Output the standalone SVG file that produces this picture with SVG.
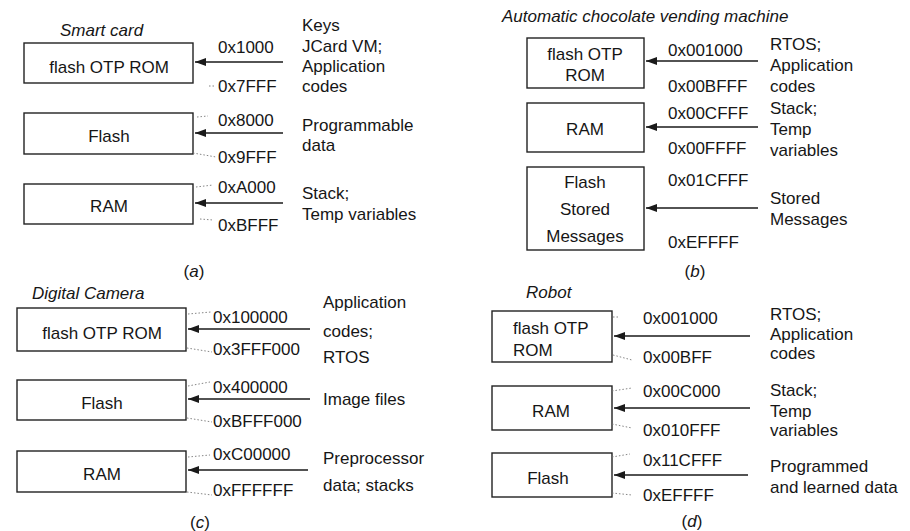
<svg xmlns="http://www.w3.org/2000/svg" width="910" height="531" viewBox="0 0 910 531">
<style>
text{font-family:"Liberation Sans",Arial,sans-serif;font-size:17px;fill:#161616}
.i{font-style:italic}
.c{text-anchor:middle}
.box{fill:#fff;stroke:#222;stroke-width:1.4}
.arr{stroke:#1a1a1a;stroke-width:1.6;fill:none}
.lead{stroke:#777;stroke-width:0.9;stroke-dasharray:1.5 2;fill:none}
</style>
<defs>
<marker id="ah" markerWidth="11" markerHeight="8" refX="11" refY="4" orient="auto" markerUnits="userSpaceOnUse">
<path d="M0,0 L11,4 L0,8 Z" fill="#1a1a1a"/>
</marker>
</defs>
<rect width="910" height="531" fill="#fff"/>

<!-- (a) Smart card -->
<text class="i" x="60" y="36">Smart card</text>
<g id="a-rom"><rect class="box" x="24" y="43" width="169" height="40"/><text class="c" x="109" y="73">flash OTP ROM</text></g>
<g id="a-flash"><rect class="box" x="24" y="113" width="169" height="41"/><text class="c" x="109" y="142">Flash</text></g>
<g id="a-ram"><rect class="box" x="24" y="184" width="169" height="40"/><text class="c" x="109" y="212">RAM</text></g>
<text x="218" y="53">0x1000</text>
<text x="218" y="92">0x7FFF</text>
<text x="218" y="126">0x8000</text>
<text x="218" y="163">0x9FFF</text>
<text x="218" y="193">0xA000</text>
<text x="218" y="231">0xBFFF</text>
<text x="302" y="31">Keys</text>
<text x="302" y="52">JCard VM;</text>
<text x="302" y="72">Application</text>
<text x="302" y="92">codes</text>
<text x="302" y="131">Programmable</text>
<text x="302" y="151">data</text>
<text x="302" y="199">Stack;</text>
<text x="302" y="220">Temp variables</text>
<text class="c" x="194" y="277">(<tspan class="i">a</tspan>)</text>

<!-- (b) Automatic chocolate vending machine -->
<text class="i" x="502" y="22">Automatic chocolate vending machine</text>
<g id="b-rom"><rect class="box" x="527" y="38" width="117" height="50"/><text class="c" x="585" y="60">flash OTP</text><text class="c" x="585" y="81">ROM</text></g>
<g id="b-ram"><rect class="box" x="527" y="103" width="117" height="49"/><text class="c" x="585" y="135">RAM</text></g>
<g id="b-flash"><rect class="box" x="527" y="167" width="117" height="83"/><text class="c" x="585" y="188">Flash</text><text class="c" x="585" y="215">Stored</text><text class="c" x="585" y="242">Messages</text></g>
<text x="668" y="56">0x001000</text>
<text x="668" y="92">0x00BFFF</text>
<text x="668" y="119">0x00CFFF</text>
<text x="668" y="154">0x00FFFF</text>
<text x="668" y="186">0x01CFFF</text>
<text x="668" y="248">0xEFFFF</text>
<text x="770" y="50">RTOS;</text>
<text x="770" y="71">Application</text>
<text x="770" y="92">codes</text>
<text x="770" y="114">Stack;</text>
<text x="770" y="135">Temp</text>
<text x="770" y="156">variables</text>
<text x="770" y="204">Stored</text>
<text x="770" y="225">Messages</text>
<text class="c" x="695" y="277">(<tspan class="i">b</tspan>)</text>

<!-- (c) Digital Camera -->
<text class="i" x="32" y="299">Digital Camera</text>
<g id="c-rom"><rect class="box" x="17" y="308" width="169" height="43"/><text class="c" x="102" y="339">flash OTP ROM</text></g>
<g id="c-flash"><rect class="box" x="17" y="380" width="169" height="40"/><text class="c" x="102" y="409">Flash</text></g>
<g id="c-ram"><rect class="box" x="17" y="451" width="169" height="41"/><text class="c" x="102" y="480">RAM</text></g>
<text x="213" y="323">0x100000</text>
<text x="213" y="355">0x3FFF000</text>
<text x="213" y="393">0x400000</text>
<text x="213" y="427">0xBFFF000</text>
<text x="213" y="460">0xC00000</text>
<text x="213" y="496">0xFFFFFF</text>
<text x="323" y="308">Application</text>
<text x="323" y="337">codes;</text>
<text x="323" y="363">RTOS</text>
<text x="323" y="405">Image files</text>
<text x="323" y="464">Preprocessor</text>
<text x="323" y="491">data; stacks</text>
<text class="c" x="200" y="528">(<tspan class="i">c</tspan>)</text>

<!-- (d) Robot -->
<text class="i" x="526" y="298">Robot</text>
<g id="d-rom"><rect class="box" x="492" y="311" width="120" height="51"/><text x="513" y="334">flash OTP</text><text x="513" y="356">ROM</text></g>
<g id="d-ram"><rect class="box" x="492" y="386" width="120" height="44"/><text class="c" x="551" y="417">RAM</text></g>
<g id="d-flash"><rect class="box" x="492" y="453" width="120" height="44"/><text class="c" x="548" y="484">Flash</text></g>
<text x="643" y="324">0x001000</text>
<text x="643" y="363">0x00BFF</text>
<text x="643" y="397">0x00C000</text>
<text x="643" y="436">0x010FFF</text>
<text x="643" y="466">0x11CFFF</text>
<text x="643" y="501">0xEFFFF</text>
<text x="770" y="320">RTOS;</text>
<text x="770" y="340">Application</text>
<text x="770" y="359">codes</text>
<text x="770" y="396">Stack;</text>
<text x="770" y="417">Temp</text>
<text x="770" y="436">variables</text>
<text x="770" y="472">Programmed</text>
<text x="770" y="493">and learned data</text>
<text class="c" x="692" y="527">(<tspan class="i">d</tspan>)</text>

<g id="connectors">
<line class="arr" x1="283" y1="62" x2="195" y2="62" marker-end="url(#ah)"/>
<line class="arr" x1="283" y1="133" x2="195" y2="133" marker-end="url(#ah)"/>
<line class="arr" x1="283" y1="203" x2="195" y2="203" marker-end="url(#ah)"/>
<line class="arr" x1="758" y1="61" x2="646" y2="61" marker-end="url(#ah)"/>
<line class="arr" x1="758" y1="127" x2="646" y2="127" marker-end="url(#ah)"/>
<line class="arr" x1="758" y1="208" x2="646" y2="208" marker-end="url(#ah)"/>
<line class="arr" x1="310" y1="329" x2="188" y2="329" marker-end="url(#ah)"/>
<line class="arr" x1="310" y1="399" x2="188" y2="399" marker-end="url(#ah)"/>
<line class="arr" x1="308" y1="470" x2="188" y2="470" marker-end="url(#ah)"/>
<line class="arr" x1="750" y1="336" x2="614" y2="336" marker-end="url(#ah)"/>
<line class="arr" x1="750" y1="408" x2="614" y2="408" marker-end="url(#ah)"/>
<line class="arr" x1="748" y1="475" x2="614" y2="475" marker-end="url(#ah)"/>
<path class="lead" d="M209,86 L214,86 M197,117 L208,116 M193,153 L216,157 M196,187 L213,185 M200,219 L213,220"/>
<path class="lead" d="M188,314 L211,312 M187,348 L212,352 M188,386 L210,382 M187,418 L212,422 M188,457 L210,455 M187,492 L212,495"/>
<path class="lead" d="M613,317 L619,317 M613,355 L632,360 M612,391 L632,388 M612,424 L632,428 M612,457 L630,454 M612,493 L632,495"/>
</g>
</svg>
